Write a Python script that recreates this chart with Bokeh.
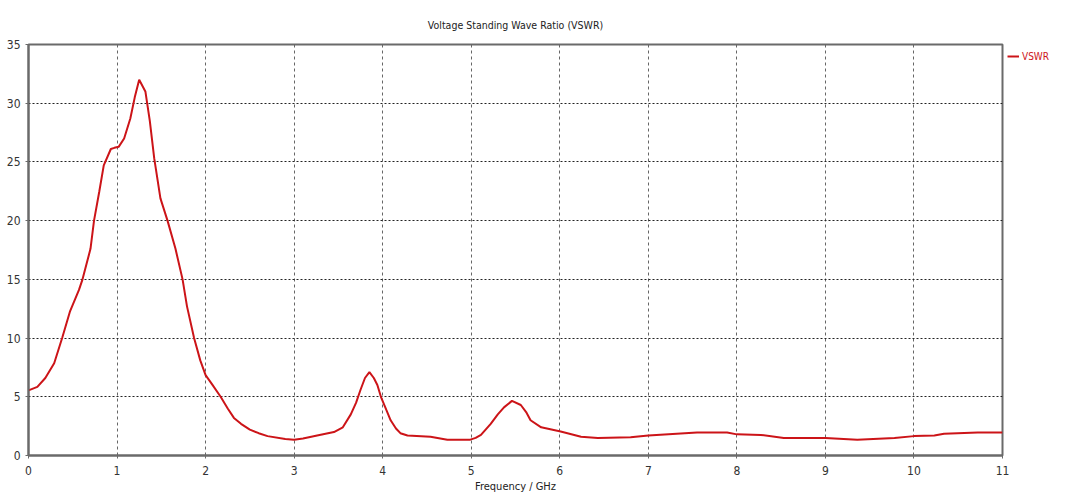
from bokeh.plotting import figure
from bokeh.models import ColumnDataSource, Legend, LegendItem, FixedTicker, Range1d
from bokeh.embed import file_html
from bokeh.resources import INLINE

freq_ghz = [0, 0.1, 0.19, 0.29, 0.38, 0.47, 0.57, 0.61, 0.7, 0.74, 0.8, 0.85, 0.93, 0.97, 1.02,
            1.08, 1.15, 1.2, 1.25, 1.32, 1.37, 1.42, 1.49, 1.57, 1.66, 1.74, 1.79, 1.87, 1.94,
            2.0, 2.07, 2.17, 2.25, 2.32, 2.4, 2.5, 2.6, 2.7, 2.9, 3.0, 3.1, 3.26, 3.45, 3.55,
            3.64, 3.7, 3.75, 3.8, 3.85, 3.9, 3.94, 3.98, 4.04, 4.09, 4.15, 4.2, 4.28, 4.54,
            4.73, 4.99, 5.05, 5.11, 5.22, 5.3, 5.37, 5.46, 5.56, 5.62, 5.67, 5.79, 6.01, 6.24,
            6.43, 6.8, 7.0, 7.55, 7.89, 8.0, 8.27, 8.53, 9.0, 9.36, 9.78, 10.0, 10.23, 10.34,
            10.72, 11.0]
vswr = [5.55, 5.85, 6.6, 7.85, 10.0, 12.3, 14.1, 15.0, 17.6, 20.0, 22.5, 24.7, 26.1, 26.2, 26.3,
        27.0, 28.7, 30.5, 32.0, 31.0, 28.5, 25.3, 21.9, 20.0, 17.6, 15.0, 12.7, 10.0, 8.1,
        6.85, 6.1, 5.0, 4.0, 3.2, 2.7, 2.2, 1.9, 1.65, 1.4, 1.35, 1.45, 1.7, 2.0, 2.4,
        3.5, 4.5, 5.6, 6.6, 7.1, 6.6, 6.0, 5.0, 3.9, 3.0, 2.3, 1.9, 1.7, 1.6,
        1.35, 1.35, 1.5, 1.75, 2.7, 3.5, 4.1, 4.65, 4.3, 3.7, 3.0, 2.4, 2.05, 1.6,
        1.5, 1.55, 1.7, 1.95, 1.95, 1.8, 1.75, 1.5, 1.5, 1.35, 1.5, 1.65, 1.7, 1.85,
        1.95, 1.95]

x_ticks = list(range(0, 12))
y_ticks = list(range(0, 40, 5))

FONT = "'DejaVu Sans Condensed', 'Liberation Sans', sans-serif"

src = ColumnDataSource(dict(f=freq_ghz, v=vswr))

p = figure(frame_width=974, frame_height=411, output_backend="svg", toolbar_location=None,
           x_range=Range1d(0, 11), y_range=Range1d(0, 35),
           min_border_left=28, min_border_right=50, min_border_top=44, min_border_bottom=33,
           title="Voltage Standing Wave Ratio (VSWR)")

p.title.align = "center"
p.title.text_font = FONT
p.title.text_font_size = "10.5px"
p.title.text_font_style = "normal"
p.title.text_color = "#222222"
p.title.offset = 0
p.title.standoff = 27

line = p.line("f", "v", source=src, line_color="#cc1418", line_width=2)

p.xaxis.ticker = FixedTicker(ticks=x_ticks)
p.yaxis.ticker = FixedTicker(ticks=y_ticks)
p.xaxis.axis_label = "Frequency / GHz"
for ax in (p.xaxis[0], p.yaxis[0]):
    ax.axis_line_color = "#6a6a6a"
    ax.axis_line_width = 2
    ax.major_tick_line_color = "#6a6a6a"
    ax.major_tick_in = 0
    ax.major_tick_out = 3
    ax.minor_tick_line_color = None
    ax.major_label_text_font = FONT
    ax.major_label_text_font_size = "12px"
    ax.major_label_text_color = "#333333"
p.xaxis.major_label_standoff = 7
p.yaxis.major_label_standoff = 5
p.xaxis.axis_label_text_font = FONT
p.xaxis.axis_label_text_font_size = "11px"
p.xaxis.axis_label_text_font_style = "normal"
p.xaxis.axis_label_text_color = "#222222"
p.xaxis.axis_label_standoff = 2

p.outline_line_color = "#6a6a6a"
p.outline_line_width = 2

p.xgrid.grid_line_color = "#666666"
p.xgrid.grid_line_dash = "3 3"
p.xgrid.grid_line_width = 1
p.ygrid.grid_line_color = "#222222"
p.ygrid.grid_line_dash = "2 2"
p.ygrid.grid_line_width = 1

legend = Legend(items=[LegendItem(label="VSWR", renderers=[line])],
                location="top_left", border_line_color=None, background_fill_alpha=0,
                padding=0, margin=5, glyph_width=12, glyph_height=14, label_standoff=3,
                label_text_font=FONT, label_text_font_size="10px", label_text_color="#cc1418")
p.add_layout(legend, "right")

open("out.html", "w").write(file_html(p, INLINE))
